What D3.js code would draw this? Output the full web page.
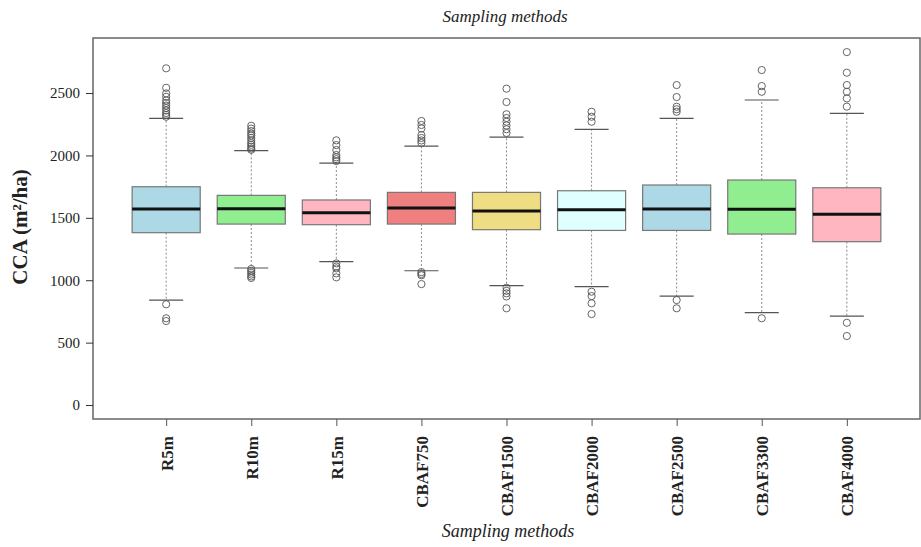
<!DOCTYPE html>
<html>
<head>
<meta charset="utf-8">
<script src="https://cdn.jsdelivr.net/npm/d3@7"></script>
<style>
  body { margin: 0; background: #fff; }
  svg { display: block; font-family: "Liberation Serif", "DejaVu Serif", serif; }
</style>
</head>
<body>
<div id="chart"></div>
<script>
// sampling methods on the x axis
const methods = ['R5m', 'R10m', 'R15m', 'CBAF750', 'CBAF1500', 'CBAF2000', 'CBAF2500', 'CBAF3300', 'CBAF4000'];
const fills = ['#add8e6', '#90ee90', '#ffb6c1', '#f08080', '#eedd82', '#e0ffff', '#add8e6', '#90ee90', '#ffb6c1'];

// box statistics, CCA (m2/ha)
const whiskerLo = [841, 1098, 1149, 1076, 956, 948, 873, 740, 713];
const q1 = [1381, 1450, 1445, 1450, 1405, 1399, 1399, 1370, 1309];
const median = [1570, 1573, 1541, 1578, 1554, 1565, 1570, 1568, 1528];
const q3 = [1749, 1680, 1643, 1704, 1704, 1717, 1763, 1803, 1741];
const whiskerHi = [2297, 2038, 1939, 2075, 2147, 2209, 2297, 2444, 2337];

const outliers = [
  [2698, 2542, 2497, 2470, 2440, 2420, 2400, 2380, 2360, 2340, 2325, 2310, 807, 695, 673],
  [2238, 2215, 2195, 2175, 2160, 2140, 2120, 2100, 2085, 2070, 2055, 2045, 1090, 1075, 1060, 1045, 1030, 1018],
  [2121, 2083, 2043, 2003, 1985, 1970, 1955, 1135, 1110, 1095, 1055, 1023],
  [2276, 2244, 2216, 2163, 2140, 2120, 2100, 1065, 1050, 1040, 969],
  [2535, 2428, 2330, 2300, 2270, 2240, 2210, 2180, 940, 915, 895, 870, 775],
  [2350, 2310, 2270, 908, 873, 815, 729],
  [2564, 2468, 2390, 2370, 2350, 841, 775],
  [2684, 2556, 2510, 695],
  [2828, 2663, 2564, 2510, 2457, 2391, 659, 553]
];

const yTicks = [0, 500, 1000, 1500, 2000, 2500];

const W = 921, H = 547;
const frame = {left: 93, right: 920, top: 38, bottom: 419};

const svg = d3.select('#chart').append('svg')
  .attr('width', W)
  .attr('height', H);

// R style: xlim 0.5..9.5 padded 4%, y padded so 0 sits near the bottom
const x = d3.scaleLinear().domain([0.14, 9.86]).range([frame.left, frame.right]);
const y = d3.scaleLinear().domain([-112, 2941]).range([frame.bottom, frame.top]);

const boxW = x(1.4) - x(1);
const stapleW = x(1.2) - x(1);

const boxes = methods.map((m, i) => ({
  name: m, pos: i + 1, fill: fills[i],
  lo: whiskerLo[i], q1: q1[i], med: median[i], q3: q3[i], hi: whiskerHi[i],
  out: outliers[i]
}));

const g = svg.append('g');

// whiskers (dashed)
g.selectAll('.whisk-up').data(boxes).enter().append('line')
  .attr('x1', d => x(d.pos)).attr('x2', d => x(d.pos))
  .attr('y1', d => y(d.q3)).attr('y2', d => y(d.hi))
  .attr('stroke', '#8a8a8a').attr('stroke-width', 1).attr('stroke-dasharray', '2,2');
g.selectAll('.whisk-lo').data(boxes).enter().append('line')
  .attr('x1', d => x(d.pos)).attr('x2', d => x(d.pos))
  .attr('y1', d => y(d.q1)).attr('y2', d => y(d.lo))
  .attr('stroke', '#8a8a8a').attr('stroke-width', 1).attr('stroke-dasharray', '2,2');

// staples
['hi', 'lo'].forEach(k => {
  g.selectAll('.staple-' + k).data(boxes).enter().append('line')
    .attr('x1', d => x(d.pos) - stapleW).attr('x2', d => x(d.pos) + stapleW)
    .attr('y1', d => y(d[k])).attr('y2', d => y(d[k]))
    .attr('stroke', '#555').attr('stroke-width', 1.2);
});

// boxes
g.selectAll('.box').data(boxes).enter().append('rect')
  .attr('x', d => x(d.pos) - boxW)
  .attr('width', boxW * 2)
  .attr('y', d => y(d.q3))
  .attr('height', d => y(d.q1) - y(d.q3))
  .attr('fill', d => d.fill)
  .attr('stroke', '#777').attr('stroke-width', 1.2);

// medians
g.selectAll('.med').data(boxes).enter().append('line')
  .attr('x1', d => x(d.pos) - boxW).attr('x2', d => x(d.pos) + boxW)
  .attr('y1', d => y(d.med)).attr('y2', d => y(d.med))
  .attr('stroke', '#111').attr('stroke-width', 3);

// outliers
boxes.forEach(d => {
  g.selectAll(null).data(d.out).enter().append('circle')
    .attr('cx', x(d.pos))
    .attr('cy', v => y(v))
    .attr('r', 3.6)
    .attr('fill', 'none')
    .attr('stroke', '#555').attr('stroke-width', 0.9);
});

// frame
svg.append('rect')
  .attr('x', frame.left).attr('y', frame.top)
  .attr('width', frame.right - frame.left).attr('height', frame.bottom - frame.top)
  .attr('fill', 'none').attr('stroke', '#666').attr('stroke-width', 1.5);

// y axis
const yAxis = svg.append('g')
  .attr('transform', 'translate(' + frame.left + ',0)')
  .call(d3.axisLeft(y).tickValues(yTicks).tickFormat(d3.format('d')).tickSize(7).tickPadding(6));
yAxis.select('.domain').remove();
yAxis.selectAll('line').attr('stroke', '#333');
yAxis.selectAll('text')
  .style('font-family', '"Liberation Serif", serif')
  .style('font-size', '15px')
  .attr('fill', '#222');

// x axis
const xAxis = svg.append('g')
  .attr('transform', 'translate(0,' + frame.bottom + ')')
  .call(d3.axisBottom(x).tickValues(boxes.map(d => d.pos)).tickFormat((d, i) => methods[i]).tickSize(7));
xAxis.select('.domain').remove();
xAxis.selectAll('line').attr('stroke', '#555');
xAxis.selectAll('text')
  .style('font-family', '"Liberation Serif", serif')
  .style('font-size', '17px')
  .style('font-weight', 'bold')
  .attr('fill', '#222')
  .attr('text-anchor', 'end')
  .attr('transform', 'rotate(-90)')
  .attr('x', -17)
  .attr('y', 0)
  .attr('dy', '0.35em');

// titles
svg.append('text')
  .attr('x', 505).attr('y', 22)
  .attr('text-anchor', 'middle')
  .style('font-style', 'italic')
  .style('font-size', '17px')
  .attr('fill', '#222')
  .text('Sampling methods');

svg.append('text')
  .attr('x', 508).attr('y', 537)
  .attr('text-anchor', 'middle')
  .style('font-style', 'italic')
  .style('font-size', '18px')
  .attr('fill', '#222')
  .text('Sampling methods');

svg.append('text')
  .attr('transform', 'translate(27,227) rotate(-90)')
  .attr('text-anchor', 'middle')
  .style('font-size', '21px')
  .style('font-weight', 'bold')
  .attr('fill', '#222')
  .text('CCA (m²/ha)');
</script>
</body>
</html>
